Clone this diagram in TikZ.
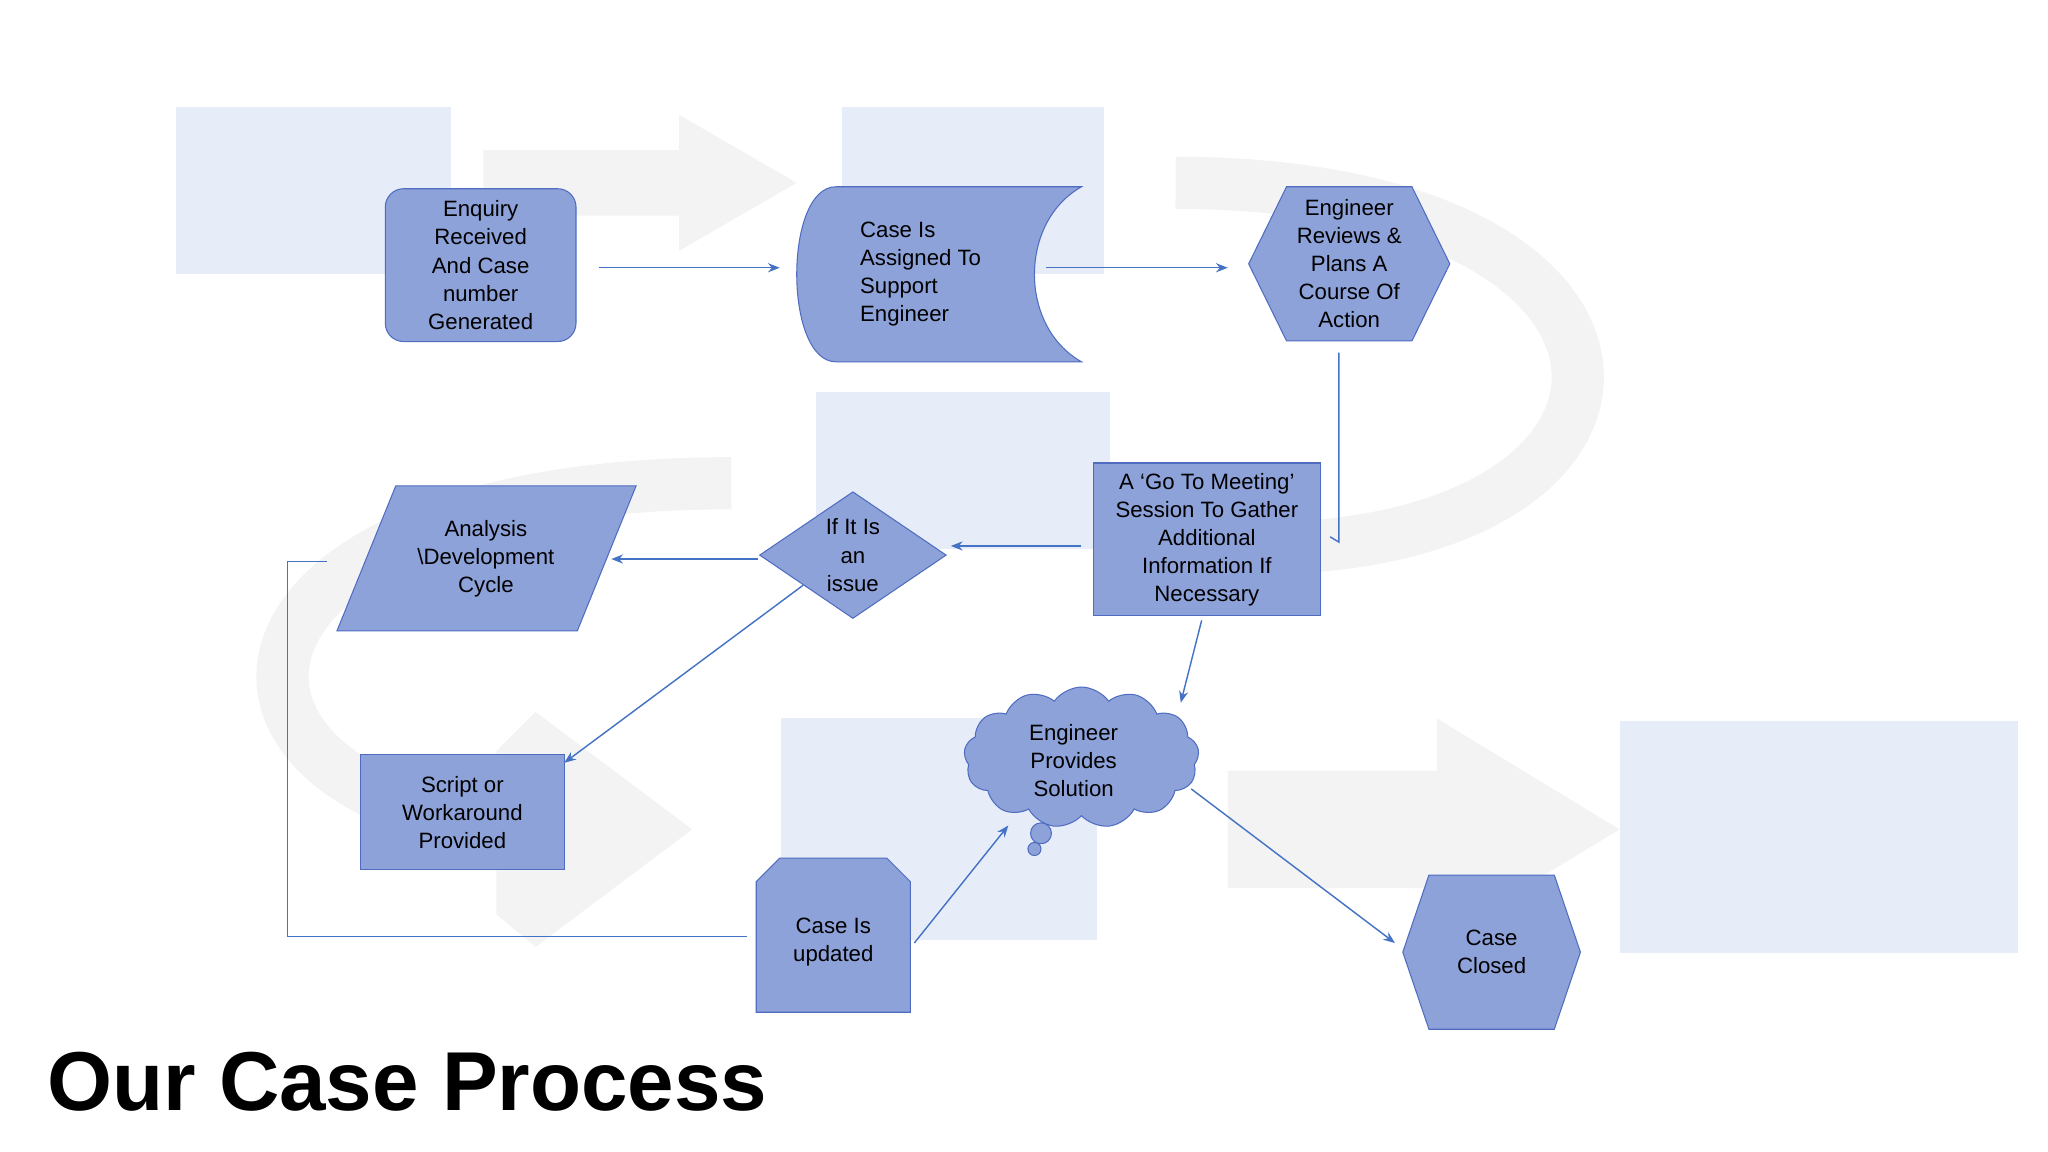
\documentclass[tikz,border=0pt]{standalone}
\usepackage{fontspec}
\setmainfont{Liberation Sans}
\usetikzlibrary{shapes.geometric,shapes.symbols,arrows.meta}
\definecolor{nfill}{HTML}{8EA2DA}
\definecolor{nline}{HTML}{4F6CC0}
\definecolor{arr}{HTML}{4472C4}
\definecolor{bgblue}{HTML}{E6ECF8}
\definecolor{bggray}{HTML}{F3F3F3}
\begin{document}
\begin{tikzpicture}[x=1pt,y=-1pt,
  box/.style={fill=nfill,draw=nline,line width=0.8pt},
  txt/.style={align=center,font=\fontsize{17}{21.5}\selectfont,text=black},
  con/.style={draw=arr,line width=1.1pt},
  arrow/.style={con,-{Stealth[length=9pt,width=7pt]}}]
\useasboundingbox (0,0) rectangle (1568,882);
% faint background graphic
\begin{scope}
\draw[bggray,line width=40pt] (900,140) .. controls (1300,140) and (1300,420) .. (960,420);
\draw[bggray,line width=40pt] (560,370) .. controls (120,370) and (120,640) .. (460,640);
\fill[bggray] (370,115) -- (520,115) -- (520,88) -- (610,140) -- (520,192) -- (520,165) -- (370,165) -- cycle;
\fill[bggray] (940,590) -- (1100,590) -- (1100,550) -- (1240,635) -- (1100,720) -- (1100,680) -- (940,680) -- cycle;
\fill[bggray] (380,575) -- (410,545) -- (530,635) -- (410,725) -- (380,700) -- cycle;
\fill[bgblue] (135,82) rectangle (345,210);
\fill[bgblue] (645,82) rectangle (845,210);
\fill[bgblue] (625,300) rectangle (850,420);
\fill[bgblue] (598,550) rectangle (840,720);
\fill[bgblue] (1240,552) rectangle (1545,730);
\end{scope}
% nodes
\node[box,rounded corners=14pt,minimum width=146,minimum height=117,txt] (enq) at (368,203) {Enquiry\\Received\\And Case\\number\\Generated};
\path[box] (640,143) -- (828,143) .. controls (780,170) and (780,250) .. (828,277) -- (640,277) .. controls (600,277) and (600,143) .. (640,143) -- cycle;
\node[txt,align=left,anchor=west] (asg) at (655,210) {Case Is\\Assigned To\\Support\\Engineer};
\coordinate (asgE) at (801,205);
\path[box] (956,202) -- (985,143) -- (1081,143) -- (1110,202) -- (1081,261) -- (985,261) -- cycle;
\node[txt] (rev) at (1033,202) {Engineer\\Reviews \&\\Plans A\\Course Of\\Action};
\node[box,minimum width=174,minimum height=117,txt] (meet) at (924,413) {A ‘Go To Meeting’\\Session To Gather\\Additional\\Information If\\Necessary};
\node[box,diamond,minimum width=143,minimum height=95,inner sep=0,txt] (iss) at (653,425) {If It Is\\an\\issue};
\path[box] (258,483) -- (303,372) -- (487,372) -- (442,483) -- cycle;
\node[txt] (ana) at (372,428) {Analysis\\\textbackslash Development\\Cycle};
\node[box,minimum width=156,minimum height=88,txt] (scr) at (354,622) {Script or\\Workaround\\Provided};
\path[box] (579,775) -- (579,675) -- (597,657) -- (679,657) -- (697,675) -- (697,775) -- cycle;
\node[txt] (upd) at (638,721) {Case Is\\updated};
\node[box,cloud,cloud puffs=13,cloud puff arc=110,aspect=1.6,minimum width=180,minimum height=108,inner sep=0] (sol) at (828,580) {};
\node[txt] (solt) at (822,582) {Engineer\\Provides\\Solution};
\draw[box] (797,638) circle (8pt);
\draw[box] (792,650) circle (5pt);
\path[box] (1074,729) -- (1094,670) -- (1190,670) -- (1210,729) -- (1190,788) -- (1094,788) -- cycle;
\node[txt] (cls) at (1142,729) {Case\\Closed};
% connectors
\coordinate (meetW) at (828,418);
\coordinate (issE) at (728,418);
\coordinate (issW) at (580,428);
\coordinate (anaE) at (468,428);
\draw[arrow] (enq.east)++(17,2) -- (597,205);
\draw[arrow] (asgE) -- (940,205);
\draw[con] (1025,270) -- (1025,415) -- ([xshift=7pt,yshift=2pt]meet.east);
\draw[arrow] (meetW) -- (issE);
\draw[arrow] (issW) -- (anaE);
\draw[arrow] (615,448) -- (432,584);
\draw[arrow] (920,475) -- (904,538);
\draw[arrow] (912,604) -- (1068,722);
\draw[arrow] (700,722) -- (772,632);
\draw[con] (572,717) -- (220,717) -- (220,430) -- (250,430);
% title
\node[anchor=base west,inner sep=0,font=\fontsize{64}{72}\selectfont\bfseries] (title) at (36,850) {Our Case Process};
\end{tikzpicture}
\end{document}
